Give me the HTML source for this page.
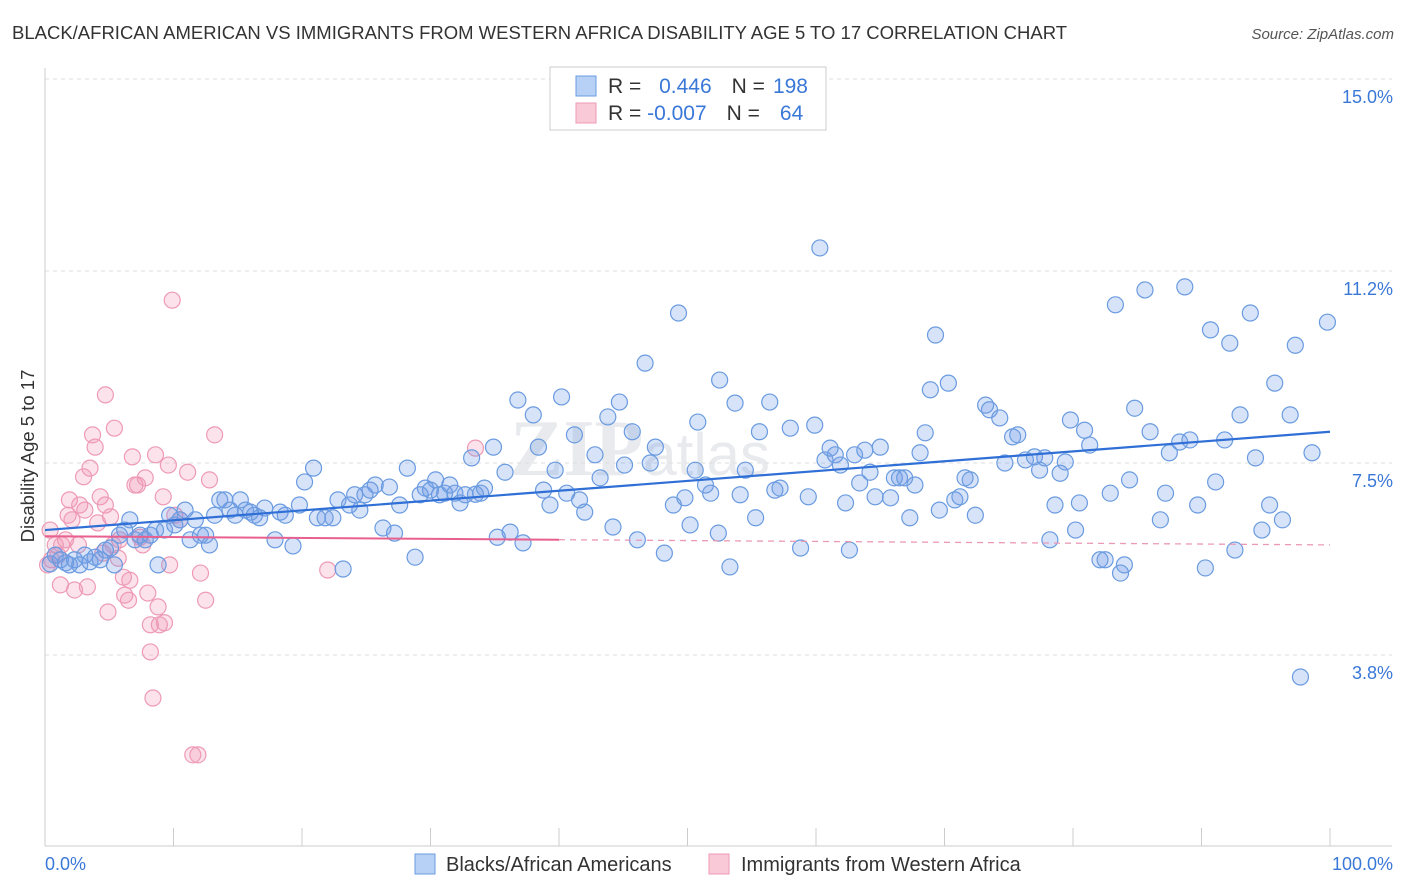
<!DOCTYPE html>
<html><head><meta charset="utf-8"><style>
body{margin:0;background:#fff;font-family:"Liberation Sans",sans-serif;}
#wrap{position:relative;width:1406px;height:892px;overflow:hidden}
</style></head><body>
<div id="wrap">
<svg id="svg" width="1406" height="892" xmlns="http://www.w3.org/2000/svg">
<text x="12" y="39" font-size="18.5" fill="#333">BLACK/AFRICAN AMERICAN VS IMMIGRANTS FROM WESTERN AFRICA DISABILITY AGE 5 TO 17 CORRELATION CHART</text>
<text x="1394" y="39" font-size="15" fill="#555" text-anchor="end" font-style="italic">Source: ZipAtlas.com</text>
<text x="34" y="456" font-size="18.5" fill="#333" text-anchor="middle" transform="rotate(-90 34 456)">Disability Age 5 to 17</text>
<text x="640" y="475" font-size="80" fill="#e8eaee" text-anchor="middle" font-family="Liberation Serif,serif" font-weight="bold">ZIP<tspan font-family="Liberation Sans,sans-serif" font-weight="normal" font-size="60">atlas</tspan></text>
<g id="grid"></g><g id="pts"></g><g id="trend"></g>
<g>
<rect x="550" y="67" width="276" height="63" fill="#fff" stroke="#ccc"/>
<rect x="576" y="76" width="20" height="20" fill="#b7d0f5" stroke="#6a9be0"/>
<rect x="576" y="103" width="20" height="20" fill="#f9c9d8" stroke="#ee9ab5"/>
<text x="608" y="93" font-size="21" fill="#333">R = <tspan fill="#3a78d8" dx="12">0.446</tspan><tspan dx="20" fill="#333">N =</tspan><tspan fill="#3a78d8" dx="8">198</tspan></text>
<text x="608" y="120" font-size="21" fill="#333">R = <tspan fill="#3a78d8">-0.007</tspan><tspan dx="20" fill="#333">N =</tspan><tspan fill="#3a78d8" dx="20">64</tspan></text>
</g>
<g>
<rect x="415" y="854" width="20" height="20" fill="#b7d0f5" stroke="#6a9be0"/>
<text x="446" y="871" font-size="20" fill="#333">Blacks/African Americans</text>
<rect x="709" y="854" width="20" height="20" fill="#f9c9d8" stroke="#ee9ab5"/>
<text x="741" y="871" font-size="20" fill="#333">Immigrants from Western Africa</text>
</g>
</svg>
</div>
<script>
const yTicks=[15.0,11.25,7.5,3.75];
const yTickLabels=["15.0%","11.2%","7.5%","3.8%"];
const xTickLabels=["0.0%","100.0%"];
const blueX=[0.4,0.8,1.2,1.6,1.9,2.3,2.7,3.1,3.5,3.9,4.3,4.7,5.1,5.4,5.8,6.2,6.6,7.0,7.4,7.8,8.2,8.6,8.8,9.3,9.7,10.1,10.5,10.9,11.3,11.7,12.1,12.5,12.8,13.2,13.6,14.0,14.4,14.8,15.2,15.6,16.0,16.3,16.7,17.1,17.9,18.3,18.7,19.3,19.8,20.2,20.9,21.2,21.8,22.4,22.8,23.2,23.7,24.1,24.5,24.9,25.3,25.7,26.3,26.8,27.2,27.6,28.2,28.8,29.2,29.6,30.0,30.4,30.7,31.1,31.5,31.9,32.3,32.7,33.2,33.5,33.9,34.2,34.9,35.2,35.8,36.2,36.8,37.2,38.0,38.4,38.8,39.3,39.7,40.2,40.6,41.2,41.6,42.0,42.8,43.2,43.8,44.2,44.7,45.7,45.1,46.1,46.7,47.1,47.5,48.2,48.9,49.3,49.8,50.2,50.6,50.8,51.4,51.8,52.4,52.5,53.3,53.7,54.1,54.5,55.3,55.6,56.4,56.8,57.2,58.0,58.8,59.4,59.9,60.3,60.7,61.1,61.5,61.9,62.3,62.6,63.0,63.4,63.8,64.2,64.6,65.0,65.8,66.1,66.5,66.9,67.3,67.7,68.1,68.5,68.9,69.3,69.6,70.3,70.8,71.2,71.6,72.0,72.4,73.2,73.5,74.3,74.7,75.3,75.7,76.3,77.0,77.4,77.8,78.2,78.6,79.0,79.4,79.8,80.2,80.5,80.9,81.3,82.1,82.5,82.9,83.3,83.7,84.0,84.4,84.8,85.6,86.0,86.8,87.2,87.5,88.3,88.7,89.1,89.7,90.3,90.7,91.1,91.8,92.2,92.6,93.0,93.8,94.2,94.7,95.3,95.7,96.3,96.9,97.3,97.7,98.6,99.8];
const blueY=[5.53,5.70,5.61,5.55,5.51,5.61,5.51,5.70,5.57,5.66,5.61,5.80,5.84,5.51,6.09,6.19,6.39,6.00,6.09,6.00,6.09,6.19,5.51,6.19,6.48,6.29,6.39,6.58,6.00,6.39,6.09,6.09,5.90,6.48,6.78,6.78,6.58,6.48,6.78,6.58,6.54,6.48,6.43,6.62,6.00,6.54,6.48,5.88,6.68,7.13,7.40,6.43,6.43,6.43,6.78,5.43,6.68,6.88,6.58,6.88,6.97,7.07,6.23,7.03,6.13,6.68,7.40,5.66,6.88,7.01,6.97,7.17,6.88,6.91,7.07,6.91,6.72,6.88,7.60,6.89,6.91,7.01,7.81,6.05,7.32,6.15,8.73,5.94,8.44,7.81,6.97,6.68,7.36,8.79,6.91,8.05,6.78,6.54,7.66,7.21,8.40,6.25,8.69,8.11,7.46,6.00,9.45,7.50,7.81,5.74,6.68,10.43,6.82,6.29,7.36,8.30,7.07,6.91,6.13,9.12,5.47,8.67,6.88,7.36,6.43,8.11,8.69,6.97,7.01,8.18,5.84,6.84,8.24,11.70,7.56,7.79,7.66,7.46,6.72,5.80,7.66,7.11,7.75,7.32,6.84,7.81,6.82,7.21,7.21,7.21,6.43,7.07,7.70,8.09,8.93,10.00,6.58,9.06,6.78,6.84,7.21,7.17,6.48,8.63,8.54,8.38,7.50,8.01,8.05,7.56,7.62,7.36,7.60,6.00,6.68,7.30,7.52,8.34,6.19,6.72,8.14,7.85,5.61,5.61,6.91,10.59,5.35,5.51,7.17,8.57,10.88,8.11,6.39,6.91,7.70,7.91,10.94,7.95,6.68,5.45,10.10,7.13,7.95,9.84,5.80,8.44,10.43,7.60,6.19,6.68,9.06,6.39,8.44,9.80,3.32,7.70,10.25];
const pinkX=[0.4,0.5,0.8,1.0,1.2,1.3,1.6,1.8,1.9,2.1,2.3,2.6,2.7,3.0,3.1,3.3,3.5,3.7,3.9,4.1,4.3,4.5,4.7,4.9,5.1,5.3,5.4,5.7,5.8,6.1,6.2,6.5,6.6,6.8,7.0,7.2,7.4,7.6,7.8,8.0,8.2,8.4,8.6,8.8,8.9,9.2,9.3,9.6,9.7,9.9,10.1,10.5,11.1,11.5,11.9,12.1,12.5,12.8,13.2,22.0,33.5,4.7,8.2,0.2];
const pinkY=[6.19,5.61,5.90,5.70,5.12,5.90,6.00,6.48,6.78,6.39,5.02,5.90,6.68,7.23,6.58,5.08,7.40,8.05,7.81,6.33,6.84,5.74,6.68,4.59,6.45,5.90,8.18,5.64,6.00,5.27,4.92,4.82,5.21,7.62,7.07,7.07,6.05,5.90,7.21,4.96,4.34,2.91,7.66,4.69,4.34,6.84,4.38,7.46,5.51,10.68,6.48,6.39,7.32,1.80,1.80,5.35,4.82,7.17,8.05,5.41,7.79,8.83,3.81,5.51];
const blueTrend=[6.19,8.11];
const pinkTrend=[6.07,5.90];
const pinkSolidEnd=40;
const X=v=>45+v*12.85, Y=v=>847-v*51.2;
const NS="http://www.w3.org/2000/svg";
function mk(tag,attrs,parent){const e=document.createElementNS(NS,tag);for(const k in attrs)e.setAttribute(k,attrs[k]);parent.appendChild(e);return e;}
const grid=document.getElementById('grid');
yTicks.forEach((t,i)=>{
 const l=mk('line',{x1:45,x2:1392,y1:Y(t),y2:Y(t),stroke:'#ddd','stroke-dasharray':'4 4'},grid);
 
 
 const tx=mk('text',{x:1393,y:Y(t)+24,'font-size':18,fill:'#3a78d8','text-anchor':'end'},grid);
 tx.textContent=yTickLabels[i];
 
 
});
const ax=mk('line',{x1:45,x2:1392,y1:846,y2:846,stroke:'#ccc'},grid);


const ay=mk('line',{x1:45,x2:45,y1:68,y2:846,stroke:'#ccc'},grid);


for(let i=0;i<=10;i++){const t=mk('line',{x1:X(i*10),x2:X(i*10),y1:828,y2:846,stroke:'#ccc'},grid);
 
 }
[[0,'start',45],[1,'end',1393]].forEach(([i,a,x])=>{const t=mk('text',{x:x,y:870,'font-size':18,fill:'#3a78d8','text-anchor':a},grid);t.textContent=xTickLabels[i];
 
 });
const pts=document.getElementById('pts');
pinkX.forEach((x,i)=>{const c=mk('circle',{cx:X(x),cy:Y(pinkY[i]),r:8,fill:'rgba(242,150,182,0.28)',stroke:'#ee9ab5','stroke-width':1.2},pts);
 
 });
blueX.forEach((x,i)=>{const c=mk('circle',{cx:X(x),cy:Y(blueY[i]),r:8,fill:'rgba(110,155,230,0.28)',stroke:'#6a9be0','stroke-width':1.2},pts);
 
 });
const tr=document.getElementById('trend');
const pAt=x=>pinkTrend[0]+(pinkTrend[1]-pinkTrend[0])*x/100;
const bl=mk('line',{x1:X(0),y1:Y(blueTrend[0]),x2:X(100),y2:Y(blueTrend[1]),stroke:'#2f6fd6','stroke-width':2.2},tr);


const pl=mk('line',{x1:X(0),y1:Y(pAt(0)),x2:X(pinkSolidEnd),y2:Y(pAt(pinkSolidEnd)),stroke:'#e8608f','stroke-width':2},tr);


const pd=mk('line',{x1:X(pinkSolidEnd),y1:Y(pAt(pinkSolidEnd)),x2:X(100),y2:Y(pAt(100)),stroke:'#eb9ab6','stroke-width':1.3,'stroke-dasharray':'6 5'},tr);


</script>
</body></html>
